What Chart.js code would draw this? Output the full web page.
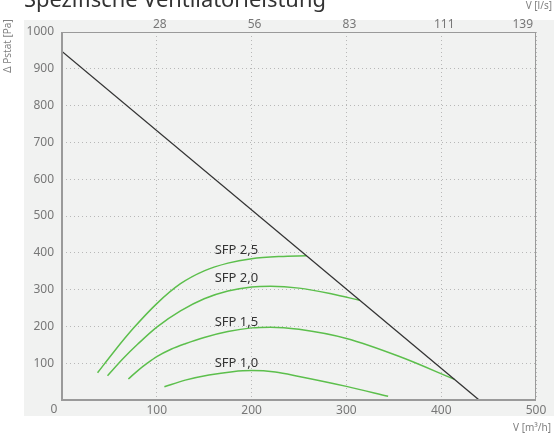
<!DOCTYPE html>
<html>
<head>
<meta charset="utf-8">
<script src="https://cdn.jsdelivr.net/npm/chart.js@4/dist/chart.umd.min.js"></script>
<style>
  html, body { margin: 0; padding: 0; background: #fff; }
  #wrap { width: 554px; height: 437px; }
</style>
</head>
<body>
<div id="wrap"><canvas id="c" width="554" height="437"></canvas></div>
<script>
// ---- data ----
const xTicks = [0, 100, 200, 300, 400, 500];
const topTickLabels = ['28', '56', '83', '111', '139'];   // l/s at 100..500 m3/h
const yTicks = [0, 100, 200, 300, 400, 500, 600, 700, 800, 900, 1000];

const fanV = [0, 440];
const fanP = [947, 0];

const sfp25V = [37.5, 55, 75, 100, 125, 150, 175, 200, 230, 258];
const sfp25P = [74, 132, 194, 262, 316, 351, 372, 384, 390, 392];

const sfp20V = [48, 65, 80, 100, 125, 150, 175, 200, 220, 250, 285, 314];
const sfp20P = [66, 114, 152, 198, 242, 275, 296, 307, 309, 304, 288, 271];

const sfp15V = [70, 80, 90, 100, 115, 130, 150, 175, 200, 220, 250, 300, 356, 414];
const sfp15P = [57, 80, 100, 118, 138, 153, 170, 186, 196, 198, 192, 167, 118, 56];

const sfp10V = [108, 130, 155, 180, 200, 225, 250, 300, 344];
const sfp10P = [36, 54, 68, 77, 80, 76, 64, 37, 10];

const sfpLabels = ['SFP 2,5', 'SFP 2,0', 'SFP 1,5', 'SFP 1,0'];
const sfpLabelV = [161, 161, 161, 161];
const sfpLabelP = [407, 331, 211, 100];

const titleText = 'Spezifische Ventilatorleistung';
const yTitle = 'Δ Pstat [Pa]';
const xTitle = 'V [m³/h]';
const x2Title = 'V [l/s]';

// ---- helpers ----
const pts = (v, p) => v.map((x, i) => ({ x: x, y: p[i] }));
const GREEN = '#5cbf4c';
const FONT = '"Noto Sans", "Open Sans", sans-serif';

const deco = {
  id: 'deco',
  beforeDraw(chart) {
    const ctx = chart.ctx;
    ctx.save();
    ctx.fillStyle = '#ffffff';
    ctx.fillRect(0, 0, chart.width, chart.height);
    ctx.fillStyle = '#f1f2f1';
    ctx.fillRect(24, 20, chart.width - 24, 396);
    ctx.restore();
  },
  afterDraw(chart) {
    const ctx = chart.ctx;
    const a = chart.chartArea;
    const xs = chart.scales.x, ys = chart.scales.y;
    ctx.save();
    // frame
    ctx.strokeStyle = '#9a9a9a';
    ctx.lineWidth = 1;
    ctx.strokeRect(a.left + 0.5, a.top + 0.5, a.right - a.left - 1, a.bottom - a.top);
    ctx.lineWidth = 2;
    ctx.beginPath();
    ctx.moveTo(a.left, a.top);
    ctx.lineTo(a.left, a.bottom);
    ctx.lineTo(a.right, a.bottom);
    ctx.stroke();

    // top tick labels
    ctx.fillStyle = '#777';
    ctx.font = '12px ' + FONT;
    ctx.textBaseline = 'middle';
    topTickLabels.forEach((t, i) => {
      const px = xs.getPixelForValue(xTicks[i + 1]);
      if (i === topTickLabels.length - 1) {
        ctx.textAlign = 'right';
        ctx.fillText(t, px - 3, 25);
      } else {
        ctx.textAlign = 'center';
        ctx.fillText(t, px + 3, 25);
      }
    });
    // origin label
    ctx.textAlign = 'center';
    ctx.fillText('0', 54, 410);

    // axis titles
    ctx.font = '10px ' + FONT;
    ctx.fillStyle = '#808080';
    ctx.textAlign = 'right';
    ctx.fillText(x2Title, 552, 6);
    ctx.fillText(xTitle, 551, 428);
    ctx.save();
    ctx.translate(8, 46);
    ctx.rotate(-Math.PI / 2);
    ctx.textAlign = 'center';
    ctx.fillText(yTitle, 0, 0);
    ctx.restore();

    // title
    let fs = 22;
    ctx.font = fs + 'px ' + FONT;
    const w = ctx.measureText(titleText).width;
    fs = fs * 302 / w;
    ctx.font = fs.toFixed(2) + 'px ' + FONT;
    ctx.fillStyle = '#333';
    ctx.textAlign = 'left';
    ctx.textBaseline = 'alphabetic';
    ctx.fillText(titleText, 24, 7);

    // SFP labels
    ctx.font = '13px ' + FONT;
    ctx.fillStyle = '#333';
    ctx.textBaseline = 'middle';
    ctx.textAlign = 'left';
    sfpLabels.forEach((t, i) => {
      ctx.fillText(t, xs.getPixelForValue(sfpLabelV[i]), ys.getPixelForValue(sfpLabelP[i]));
    });
    ctx.restore();
  }
};

const lineDs = (label, data, color, width) => ({
  label, data, borderColor: color, borderWidth: width,
  pointRadius: 0, fill: false, cubicInterpolationMode: 'monotone'
});

new Chart(document.getElementById('c'), {
  type: 'line',
  data: {
    datasets: [
      lineDs('Ventilator', pts(fanV, fanP), '#333333', 1.3),
      lineDs('SFP 2,5', pts(sfp25V, sfp25P), GREEN, 1.5),
      lineDs('SFP 2,0', pts(sfp20V, sfp20P), GREEN, 1.5),
      lineDs('SFP 1,5', pts(sfp15V, sfp15P), GREEN, 1.5),
      lineDs('SFP 1,0', pts(sfp10V, sfp10P), GREEN, 1.5)
    ]
  },
  options: {
    responsive: false,
    animation: false,
    devicePixelRatio: 1,
    layout: { padding: { left: 0, right: 18, top: 32, bottom: 0 } },
    plugins: { legend: { display: false }, tooltip: { enabled: false }, title: { display: false } },
    scales: {
      x: {
        type: 'linear', min: 0, max: 500,
        afterFit(s) { s.height = 37; },
        afterBuildTicks(s) { s.ticks = xTicks.map(v => ({ value: v })); },
        ticks: {
          padding: 3, color: '#777', font: { size: 12, family: FONT },
          maxRotation: 0, autoSkip: false,
          callback: (v) => v === 0 ? '' : String(v)
        },
        grid: { color: '#b8b8b8', drawTicks: false, lineWidth: 1 },
        border: { display: false, dash: [1, 3] }
      },
      y: {
        type: 'linear', min: 0, max: 1000,
        afterFit(s) { s.width = 62; },
        afterBuildTicks(s) { s.ticks = yTicks.map(v => ({ value: v })); },
        ticks: {
          padding: 8, color: '#777', font: { size: 12, family: FONT },
          autoSkip: false,
          callback: (v) => v === 0 ? '' : String(v)
        },
        grid: { color: '#b8b8b8', drawTicks: false, lineWidth: 1 },
        border: { display: false, dash: [1, 3] }
      }
    }
  },
  plugins: [deco]
});
</script>
</body>
</html>
